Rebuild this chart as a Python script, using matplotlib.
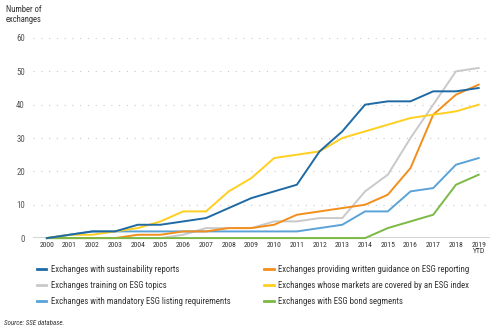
import numpy as np
import matplotlib.pyplot as plt
from matplotlib import font_manager

# Years shown on the x axis
years = ["2000", "2001", "2002", "2003", "2004", "2005", "2006", "2007", "2008", "2009",
         "2010", "2011", "2012", "2013", "2014", "2015", "2016", "2017", "2018", "2019\nYTD"]

# Number of exchanges per series
sustainability_reports = [0, 1, 2, 2, 4, 4, 5, 6, 9, 12, 14, 16, 26, 32, 40, 41, 41, 44, 44, 45]
written_guidance = [0, 0, 0, 0, 1, 1, 2, 2, 3, 3, 4, 7, 8, 9, 10, 13, 21, 37, 43, 46]
training_esg = [0, 0, 0, 0, 0, 0, 1, 3, 3, 3, 5, 5, 6, 6, 14, 19, 30, 40, 50, 51]
esg_index = [0, 1, 1, 2, 3, 5, 8, 8, 14, 18, 24, 25, 26, 30, 32, 34, 36, 37, 38, 40]
mandatory_listing = [0, 1, 2, 2, 2, 2, 2, 2, 2, 2, 2, 2, 3, 4, 8, 8, 14, 15, 22, 24]
esg_bond = [0, 0, 0, 0, 0, 0, 0, 0, 0, 0, 0, 0, 0, 0, 0, 3, 5, 7, 16, 19]

# a narrow face if one is installed, else plain DejaVu
names = {f.name for f in font_manager.fontManager.ttflist}
font = "DejaVu Sans"
for cand in ["Liberation Sans Narrow", "DejaVu Sans Condensed", "Roboto Condensed"]:
    if cand in names:
        font = cand
        break
plt.rcParams['font.family'] = [font, 'DejaVu Sans']
narrow = font != "DejaVu Sans"

fig = plt.figure(figsize=(4.96, 3.33), dpi=100)
ax = fig.add_axes([0.067, 0.285, 0.921, 0.601])

x = np.arange(len(years))
series = [
    (sustainability_reports, "Exchanges with sustainability reports", "#1f6aa5", 7),
    (training_esg, "Exchanges training on ESG topics", "#c9c9c9", 2),
    (mandatory_listing, "Exchanges with mandatory ESG listing requirements", "#5aa2d8", 3),
    (written_guidance, "Exchanges providing written guidance on ESG reporting", "#f28e1c", 4),
    (esg_index, "Exchanges whose markets are covered by an ESG index", "#ffcf1f", 5),
    (esg_bond, "Exchanges with ESG bond segments", "#7bb943", 6),
]
lines = []
for vals, label, col, zo in series:
    ln, = ax.plot(x, vals, color=col, lw=1.4, label=label, zorder=zo, clip_on=False)
    lines.append(ln)

tick_fs = 5.5 if narrow else 5.0
leg_fs = 6.3 if narrow else 5.3

ax.set_xlim(-0.6, 19.5)
ax.set_ylim(0, 60)
ax.set_yticks(np.arange(0, 61, 10))
ax.set_xticks(x)
ax.set_xticklabels(years, fontsize=tick_fs, color="#333333", linespacing=1.0)
ax.tick_params(axis="y", labelsize=6.3, colors="#555555", length=0, pad=6)
ax.tick_params(axis="x", length=0, pad=3)
for v in range(10, 61, 10):
    ax.axhline(v, color="#c8c8c8", lw=0.8, ls=(0, (1, 6)), zorder=0)
ax.axhline(0, color="#d0d0d0", lw=2, zorder=1)
for s in ax.spines.values():
    s.set_visible(False)

fig.text(0.012, 0.985, "Number of\nexchanges", fontsize=6.2, color="#333333",
         va="top", ha="left", linespacing=1.1)

# two legend columns placed separately
leg_kw = dict(loc="upper left", frameon=False, fontsize=leg_fs, handlelength=1.1,
              handletextpad=0.5, labelspacing=0.8, borderpad=0, borderaxespad=0,
              labelcolor="#333333")
leg1 = fig.legend(handles=lines[:3], bbox_to_anchor=(0.074, 0.204), **leg_kw)
leg2 = fig.legend(handles=lines[3:], bbox_to_anchor=(0.533, 0.204), **leg_kw)
for leg in (leg1, leg2):
    for line in leg.get_lines():
        line.set_linewidth(2)

fig.text(0.008, 0.025, "Source: SSE database.", fontsize=5, style="italic", color="#333333")

fig.savefig("out.png", dpi=100)
